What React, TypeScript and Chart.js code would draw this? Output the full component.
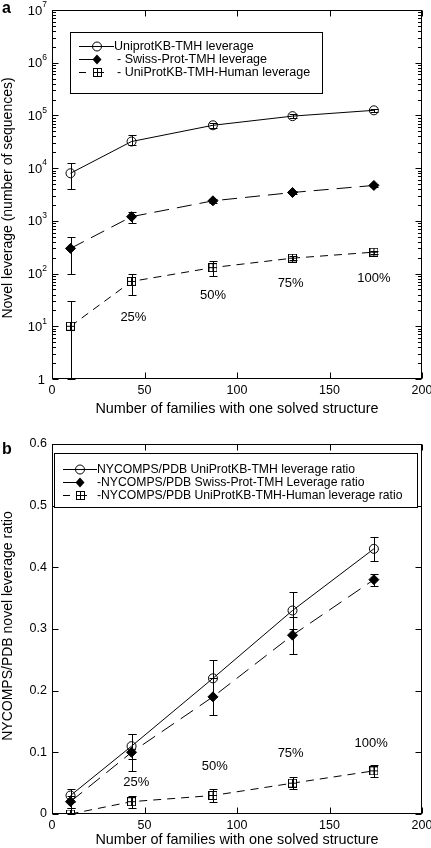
import React, { useEffect, useRef } from 'react';
import { Chart, registerables } from 'chart.js';
Chart.register(...registerables);

const FONT = '"Liberation Sans", Arial, Helvetica, sans-serif';
Chart.defaults.font.family = FONT;
Chart.defaults.color = '#000';

// ---------- Data ----------
const families = [10, 43, 87, 130, 174];

// Panel a: novel leverage (number of sequences)
const uniprotLev = [8000, 32000, 65000, 97000, 125000];
const uniprotLevLow = [4000, 27000, 58000, 90000, 118000];
const uniprotLevHigh = [12400, 42000, 73000, 105000, 132000];
const swissLev = [300, 1200, 2400, 3450, 4700];
const swissLevLow = [100, 900, 2150, 3200, 4400];
const swissLevHigh = [500, 1500, 2650, 3700, 5000];
const humanLev = [10, 71, 130, 196, 255];
const humanLevLow = [1, 40, 91, 178, 238];
const humanLevHigh = [30, 100, 170, 215, 272];

// Panel b: NYCOMPS/PDB leverage ratio
const uniprotRatio = [0.03, 0.11, 0.22, 0.33, 0.43];
const uniprotRatioLow = [0.02, 0.09, 0.19, 0.30, 0.41];
const uniprotRatioHigh = [0.04, 0.13, 0.25, 0.36, 0.45];
const swissRatio = [0.02, 0.10, 0.19, 0.29, 0.38];
const swissRatioLow = [0.01, 0.07, 0.16, 0.26, 0.37];
const swissRatioHigh = [0.03, 0.13, 0.22, 0.32, 0.39];
const humanRatio = [0.0, 0.02, 0.03, 0.05, 0.07];
const humanRatioLow = [0.0, 0.01, 0.02, 0.04, 0.06];
const humanRatioHigh = [0.01, 0.03, 0.04, 0.06, 0.08];

const legendA = ['UniprotKB-TMH leverage', '- Swiss-Prot-TMH leverage', '- UniProtKB-TMH-Human leverage'];
const legendB = [
  'NYCOMPS/PDB UniProtKB-TMH leverage ratio',
  '-NYCOMPS/PDB Swiss-Prot-TMH Leverage ratio',
  '-NYCOMPS/PDB UniProtKB-TMH-Human leverage ratio',
];

const pctLabels = ['25%', '50%', '75%', '100%'];
const pctXA = [44, 87, 129, 174];
const pctYA = [15, 38, 64, 80];
const pctXB = [45.5, 88, 129, 172.5];
const pctYB = [0.051, 0.077, 0.099, 0.115];

const xTicks = [0, 50, 100, 150, 200];
const logTicks = [1, 10, 100, 1000, 10000, 100000, 1000000, 10000000];

const xTitle = 'Number of families with one solved structure';
const yTitleA = 'Novel leverage (number of sequences)';
const yTitleB = 'NYCOMPS/PDB novel leverage ratio';

type Marker = 'circle' | 'diamond' | 'square';
interface Series { values: number[]; low: number[]; high: number[]; marker: Marker; dash: number[] }

let squareImg: HTMLCanvasElement | null = null;
function getSquare(): HTMLCanvasElement {
  if (squareImg) return squareImg;
  const c = document.createElement('canvas');
  c.width = 9; c.height = 9;
  const g = c.getContext('2d')!;
  g.fillStyle = '#fff';
  g.fillRect(0.5, 0.5, 8, 8);
  g.strokeStyle = '#000';
  g.lineWidth = 1;
  g.strokeRect(0.5, 0.5, 8, 8);
  g.beginPath();
  g.moveTo(4.5, 0.5); g.lineTo(4.5, 8.5);
  g.moveTo(0.5, 4.5); g.lineTo(8.5, 4.5);
  g.stroke();
  squareImg = c;
  return c;
}

function drawMarker(ctx: CanvasRenderingContext2D, m: Marker, x: number, y: number) {
  ctx.save();
  ctx.strokeStyle = '#000';
  ctx.fillStyle = '#000';
  ctx.lineWidth = 1;
  if (m === 'circle') {
    ctx.beginPath(); ctx.arc(x, y, 4.5, 0, Math.PI * 2); ctx.stroke();
  } else if (m === 'diamond') {
    ctx.beginPath();
    ctx.moveTo(x, y - 5); ctx.lineTo(x + 4.5, y); ctx.lineTo(x, y + 5); ctx.lineTo(x - 4.5, y);
    ctx.closePath(); ctx.fill();
  } else {
    const img = getSquare();
    ctx.drawImage(img, Math.round(x - 4.5), Math.round(y - 4.5));
  }
  ctx.restore();
}

interface Panel {
  letter: string;
  letterY: number;
  log: boolean;
  series: Series[];
  legend: string[];
  legendFont: number;
  legendBox: [number, number, number, number];
  legendRows: number[];
  legendLine: [number, number];
  legendMarkerX: number;
  legendTextX: number[];
  pctX: number[];
  pctY: number[];
  yTitle: string;
  yTitleY: number;
  xTitleOffset: number;
  padTop: number;
  xHeight: number;
}

function decorPlugin(p: Panel) {
  return {
    id: 'decor',
    afterDatasetsDraw(chart: any) {
      const ctx: CanvasRenderingContext2D = chart.ctx;
      const xs = chart.scales.x, ys = chart.scales.y;
      ctx.save();
      ctx.strokeStyle = '#000';
      ctx.lineWidth = 1;
      p.series.forEach((s) => {
        families.forEach((f, i) => {
          const x = Math.round(xs.getPixelForValue(f)) + 0.5;
          const yl = Math.round(ys.getPixelForValue(s.low[i])) + 0.5;
          const yh = Math.round(ys.getPixelForValue(s.high[i])) + 0.5;
          ctx.beginPath();
          ctx.moveTo(x, yl); ctx.lineTo(x, yh);
          ctx.moveTo(x - 4, yl); ctx.lineTo(x + 4, yl);
          ctx.moveTo(x - 4, yh); ctx.lineTo(x + 4, yh);
          ctx.stroke();
        });
      });
      ctx.restore();
    },
    afterDraw(chart: any) {
      const ctx: CanvasRenderingContext2D = chart.ctx;
      const a = chart.chartArea;
      const xs = chart.scales.x, ys = chart.scales.y;
      const L = Math.round(a.left) + 0.5, R = Math.round(a.right) - 0.5;
      const T = Math.round(a.top) + 0.5, B = Math.round(a.bottom) - 0.5;
      ctx.save();
      ctx.strokeStyle = '#000';
      ctx.fillStyle = '#000';
      ctx.lineWidth = 1;
      // frame
      ctx.strokeRect(L, T, R - L, B - T);
      // x ticks (inward, bottom and top)
      ctx.beginPath();
      xTicks.forEach((v) => {
        const x = Math.round(xs.getPixelForValue(v)) + 0.5;
        ctx.moveTo(x, B); ctx.lineTo(x, B - 6);
        ctx.moveTo(x, T); ctx.lineTo(x, T + 6);
      });
      // y ticks
      if (p.log) {
        logTicks.forEach((v, d) => {
          const y = Math.round(ys.getPixelForValue(v)) + 0.5;
          ctx.moveTo(L, y); ctx.lineTo(L + 6, y);
          ctx.moveTo(R, y); ctx.lineTo(R - 6, y);
          if (d < logTicks.length - 1) {
            for (let k = 2; k <= 9; k++) {
              const ym = Math.round(ys.getPixelForValue(v * k)) + 0.5;
              ctx.moveTo(L, ym); ctx.lineTo(L + 3.5, ym);
              ctx.moveTo(R, ym); ctx.lineTo(R - 3.5, ym);
            }
          }
        });
      } else {
        ys.ticks.forEach((t: any) => {
          const y = Math.round(ys.getPixelForValue(t.value)) + 0.5;
          ctx.moveTo(L, y); ctx.lineTo(L + 6, y);
          ctx.moveTo(R, y); ctx.lineTo(R - 6, y);
        });
      }
      ctx.stroke();
      // log tick labels with superscripts
      if (p.log) {
        logTicks.forEach((v, d) => {
          const y = ys.getPixelForValue(v);
          ctx.textBaseline = 'middle';
          ctx.textAlign = 'right';
          if (d === 0) {
            ctx.font = `13px ${FONT}`;
            ctx.fillText('1', a.left - 7, y + 1);
          } else {
            ctx.font = `8.5px ${FONT}`;
            const expW = ctx.measureText(String(d)).width;
            const xr = a.left - 5;
            ctx.fillText(String(d), xr, y - 5);
            ctx.font = `13px ${FONT}`;
            ctx.fillText('10', xr - expW, y + 1);
          }
        });
      }
      // x title
      ctx.font = `14.4px ${FONT}`;
      ctx.textAlign = 'center';
      ctx.textBaseline = 'middle';
      ctx.fillText(xTitle, (a.left + a.right) / 2, a.bottom + p.xTitleOffset);
      // y title
      ctx.font = `14px ${FONT}`;
      ctx.save();
      ctx.translate(8, p.yTitleY);
      ctx.rotate(-Math.PI / 2);
      ctx.fillText(p.yTitle, 0, 0);
      ctx.restore();
      // panel letter
      ctx.font = `bold 16px ${FONT}`;
      ctx.textAlign = 'left';
      ctx.textBaseline = 'alphabetic';
      ctx.fillText(p.letter, 2, p.letterY);
      // percentage labels
      ctx.font = `13px ${FONT}`;
      ctx.textAlign = 'center';
      ctx.textBaseline = 'middle';
      pctLabels.forEach((t, i) => {
        ctx.fillText(t, xs.getPixelForValue(p.pctX[i]), ys.getPixelForValue(p.pctY[i]));
      });
      // legend
      const [bx1, by1, bx2, by2] = p.legendBox;
      ctx.fillStyle = '#fff';
      ctx.fillRect(bx1 + 0.5, by1 + 0.5, bx2 - bx1, by2 - by1);
      ctx.strokeStyle = '#000';
      ctx.strokeRect(bx1 + 0.5, by1 + 0.5, bx2 - bx1, by2 - by1);
      ctx.fillStyle = '#000';
      const [lx0, lx1] = p.legendLine;
      const mx = p.legendMarkerX;
      p.series.forEach((s, i) => {
        const y = Math.round(p.legendRows[i]) + 0.5;
        ctx.beginPath();
        if (i === 0) {
          ctx.moveTo(lx0, y); ctx.lineTo(lx1, y);
        } else if (i === 1) {
          ctx.moveTo(lx0, y); ctx.lineTo(mx, y);
        } else {
          ctx.moveTo(lx0, y); ctx.lineTo(lx0 + 7, y);
          ctx.moveTo(mx + 4, y); ctx.lineTo(mx + 7, y);
        }
        ctx.stroke();
        drawMarker(ctx, s.marker, mx, y);
        ctx.font = `${p.legendFont}px ${FONT}`;
        ctx.textAlign = 'left';
        ctx.textBaseline = 'middle';
        ctx.fillText(p.legend[i], p.legendTextX[i], y + 0.5);
      });
      ctx.restore();
    },
  };
}

function buildConfig(p: Panel): any {
  const pointStyleFor = (m: Marker) => (m === 'circle' ? 'circle' : m === 'diamond' ? 'rectRot' : getSquare());
  return {
    type: 'line',
    data: {
      datasets: p.series.map((s) => ({
        data: families.map((f, i) => ({ x: f, y: s.values[i] })),
        borderColor: '#000',
        borderWidth: 1,
        borderDash: s.dash,
        backgroundColor: s.marker === 'diamond' ? '#000' : 'rgba(0,0,0,0)',
        pointStyle: pointStyleFor(s.marker),
        pointRadius: s.marker === 'diamond' ? 5 : 4.5,
        pointBorderColor: '#000',
        pointBackgroundColor: s.marker === 'diamond' ? '#000' : 'rgba(0,0,0,0)',
        pointBorderWidth: 1,
        tension: 0,
        fill: false,
      })),
    },
    options: {
      responsive: false,
      animation: false,
      devicePixelRatio: 1,
      layout: { padding: { left: 0, right: 9, top: p.padTop, bottom: 0 } },
      plugins: { legend: { display: false }, tooltip: { enabled: false } },
      events: [],
      scales: {
        x: {
          type: 'linear',
          min: 0,
          max: 200,
          grid: { display: false, drawTicks: false },
          border: { display: false },
          ticks: { stepSize: 50, font: { size: 12.5, family: FONT }, color: '#000', padding: 4, maxRotation: 0 },
          afterBuildTicks: (s: any) => { s.ticks = xTicks.map((v) => ({ value: v })); },
          afterFit: (s: any) => { s.height = p.xHeight; s.paddingLeft = 0; s.paddingRight = 0; },
        },
        y: p.log
          ? {
              type: 'logarithmic',
              min: 1,
              max: 1e7,
              grid: { display: false, drawTicks: false },
              border: { display: false },
              ticks: { display: false },
              afterFit: (s: any) => { s.width = 52; s.paddingTop = 0; s.paddingBottom = 0; },
            }
          : {
              type: 'linear',
              min: 0,
              max: 0.6,
              grid: { display: false, drawTicks: false },
              border: { display: false },
              ticks: {
                stepSize: 0.1,
                font: { size: 12.5, family: FONT },
                color: '#000',
                padding: 5,
                callback: (v: number) => (Math.abs(v) < 1e-9 ? '0' : Number(v).toFixed(1)),
              },
              afterFit: (s: any) => { s.width = 52; s.paddingTop = 0; s.paddingBottom = 0; },
            },
      },
    },
    plugins: [decorPlugin(p)],
  };
}

const panelA: Panel = {
  letter: 'a',
  letterY: 13,
  log: true,
  series: [
    { values: uniprotLev, low: uniprotLevLow, high: uniprotLevHigh, marker: 'circle', dash: [] },
    { values: swissLev, low: swissLevLow, high: swissLevHigh, marker: 'diamond', dash: [15, 8] },
    { values: humanLev, low: humanLevLow, high: humanLevHigh, marker: 'square', dash: [8, 6] },
  ],
  legend: legendA,
  legendFont: 12.5,
  legendBox: [70, 32, 322, 93],
  legendRows: [46, 59, 72],
  legendLine: [79, 114],
  legendMarkerX: 97,
  legendTextX: [114, 117, 117],
  pctX: pctXA,
  pctY: pctYA,
  yTitle: yTitleA,
  yTitleY: 198,
  xTitleOffset: 30,
  padTop: 10,
  xHeight: 45,
};

const panelB: Panel = {
  letter: 'b',
  letterY: 30,
  log: false,
  series: [
    { values: uniprotRatio, low: uniprotRatioLow, high: uniprotRatioHigh, marker: 'circle', dash: [] },
    { values: swissRatio, low: swissRatioLow, high: swissRatioHigh, marker: 'diamond', dash: [15, 8] },
    { values: humanRatio, low: humanRatioLow, high: humanRatioHigh, marker: 'square', dash: [8, 6] },
  ],
  legend: legendB,
  legendFont: 12.2,
  legendBox: [54, 29, 417, 83],
  legendRows: [45, 58, 70.5],
  legendLine: [63, 97],
  legendMarkerX: 80,
  legendTextX: [97, 97, 97],
  pctX: pctXB,
  pctY: pctYB,
  yTitle: yTitleB,
  yTitleY: 202,
  xTitleOffset: 26,
  padTop: 20,
  xHeight: 34,
};

function ChartPanel({ panel }: { panel: Panel }) {
  const ref = useRef<HTMLCanvasElement | null>(null);
  useEffect(() => {
    if (!ref.current) return;
    const chart = new Chart(ref.current, buildConfig(panel));
    return () => chart.destroy();
  }, [panel]);
  return <canvas ref={ref} width={431} height={424} style={{ display: 'block', width: 431, height: 424 }} />;
}

export default function App() {
  return (
    <div style={{ position: 'absolute', left: 0, top: 0, width: 431, height: 848, background: '#fff' }}>
      <ChartPanel panel={panelA} />
      <ChartPanel panel={panelB} />
    </div>
  );
}
